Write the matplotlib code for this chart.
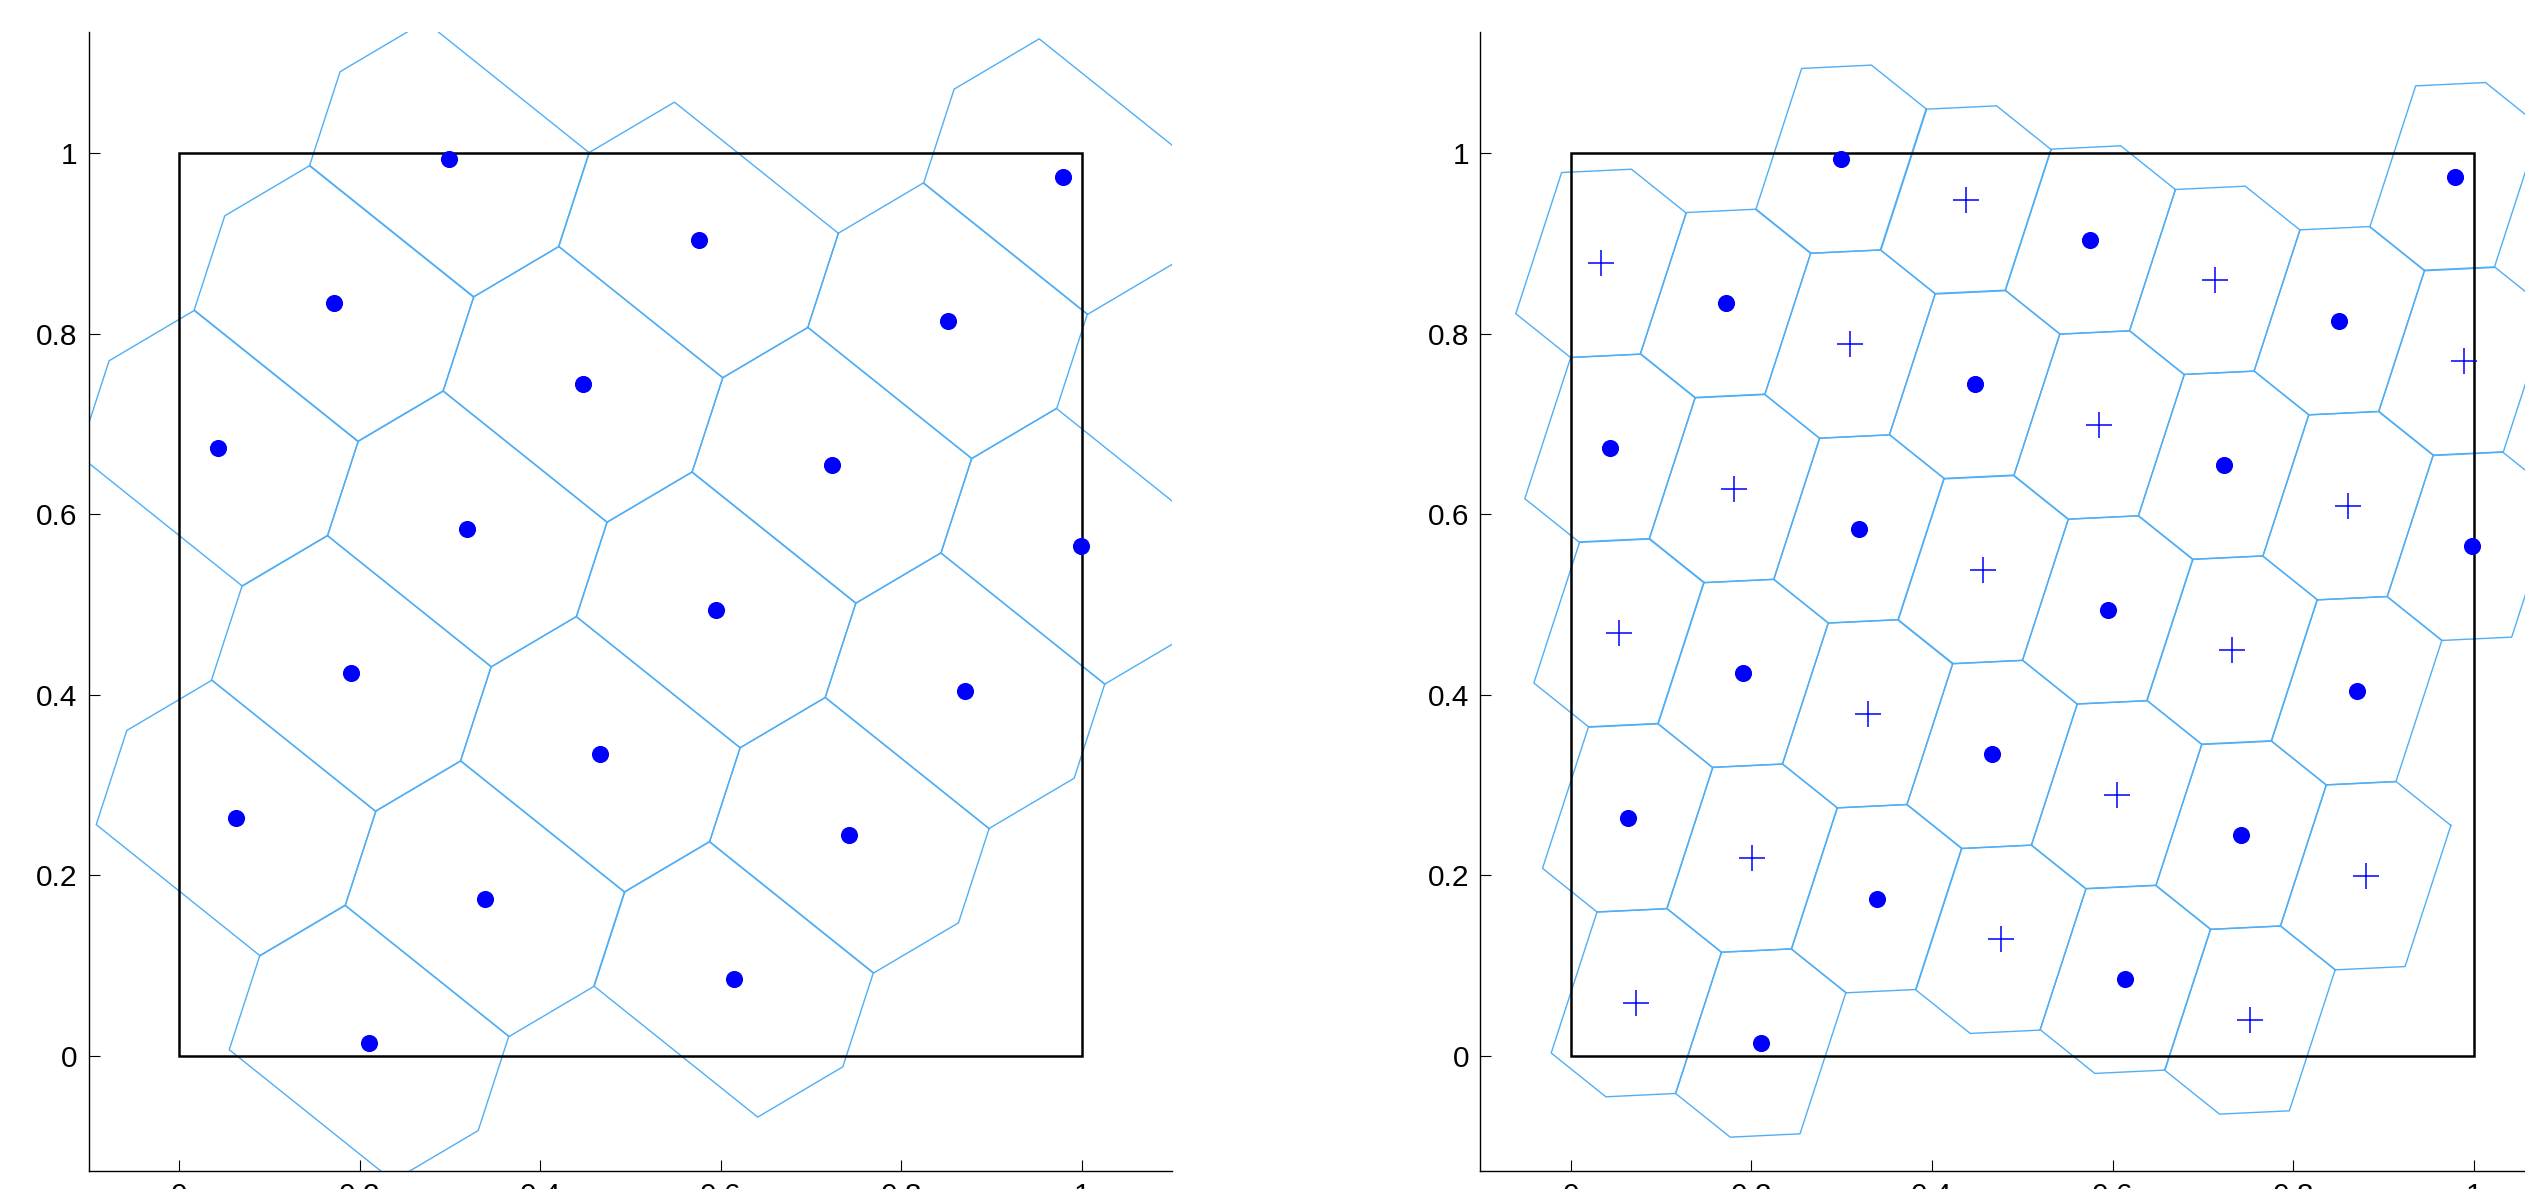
import numpy as np
import matplotlib
matplotlib.use('Agg')
import matplotlib.pyplot as plt
from matplotlib.patches import Rectangle

plt.rcParams['font.family'] = ['Liberation Sans', 'DejaVu Sans']

# lattice points in the unit square (filled dots)
dots_x = [0.2993, 0.1716, 0.4474, 0.0435, 0.3193, 0.9793, 0.5754, 0.8512, 0.7231, 0.9985,
	0.1908, 0.4666, 0.0631, 0.3389, 0.2104, 0.5947, 0.8704, 0.7423, 0.6142]
dots_y = [0.9934, 0.8338, 0.7441, 0.6732, 0.5838, 0.9741, 0.9040, 0.8146, 0.6544, 0.5646,
	0.4239, 0.3342, 0.2637, 0.1743, 0.0144, 0.4941, 0.4047, 0.2445, 0.0850]

# extra points of the refined lattice (crosses)
cross_x = [0.4378, 0.0335, 0.3093, 0.1812, 0.4566, 0.7132, 0.9893, 0.5851, 0.8608,
	0.0535, 0.3289, 0.2008, 0.4762, 0.0727, 0.7323, 0.6046, 0.8804, 0.7523]
cross_y = [0.9483, 0.8781, 0.7887, 0.6285, 0.5387, 0.8593, 0.7699, 0.6990, 0.6096,
	0.4690, 0.3792, 0.2193, 0.1293, 0.0591, 0.4498, 0.2895, 0.1997, 0.0399]

ticks = [0, 0.2, 0.4, 0.6, 0.8, 1]
tick_labels = ['0', '0.2', '0.4', '0.6', '0.8', '1']

CELL = '#50AEF5'
BLUE = '#0000FF'


# keep the part of a polygon where x . n <= c
def clip(poly, n, c):
	out = []
	m = len(poly)
	for i in range(m):
		p, q = poly[i], poly[(i + 1) % m]
		fp, fq = p @ n - c, q @ n - c
		if fp <= 0:
			out.append(p)
		if fp * fq < 0:
			t = fp / (fp - fq)
			out.append(p + t * (q - p))
	return np.array(out)


# Voronoi cell of the origin for the lattice spanned by the points
def voronoi_cell(pts, tol=0.03):
	d = (pts[:, None, :] - pts[None, :, :]).reshape(-1, 2)
	r = np.hypot(d[:, 0], d[:, 1])
	rmin = r[r > 1e-9].min()
	d = d[(r > 1e-9) & (r < 2.5 * rmin)]

	# average the differences that stand for the same lattice vector
	groups = []
	for v in d:
		for g in groups:
			if np.hypot(*(g[0] / g[1] - v)) < tol:
				g[0] += v
				g[1] += 1
				break
		else:
			groups.append([v.copy(), 1])

	poly = np.array([[-1., -1.], [1., -1.], [1., 1.], [-1., 1.]])
	for s, k in groups:
		v = s / k
		poly = clip(poly, v, v @ v / 2)
	return poly


def setup(ax):
	ax.set_xlim(-0.1, 1.1)
	ax.set_ylim(-0.127, 1.134)
	ax.spines['top'].set_visible(False)
	ax.spines['right'].set_visible(False)
	for s in ('left', 'bottom'):
		ax.spines[s].set_linewidth(1.0)
	ax.set_xticks(ticks)
	ax.set_xticklabels(tick_labels)
	ax.set_yticks(ticks)
	ax.set_yticklabels(tick_labels)
	ax.tick_params(direction='in', length=8, width=0.8, labelsize=21.5, pad=8)


def draw_cells(ax, pts):
	cell = voronoi_cell(pts)
	ring = np.vstack([cell, cell[:1]])
	for p in pts:
		ax.plot(ring[:, 0] + p[0], ring[:, 1] + p[1], color=CELL, lw=1.0, zorder=1)
	ax.add_patch(Rectangle((0, 0), 1, 1, fill=False, ec='k', lw=1.8, zorder=2))


dots = np.column_stack([dots_x, dots_y])
crosses = np.column_stack([cross_x, cross_y])

fig = plt.figure(figsize=(25.25, 11.89), dpi=100)

ax1 = fig.add_axes([0.03513, 0.01539, 0.42915, 0.95745])
draw_cells(ax1, dots)
ax1.plot(dots_x, dots_y, 'o', color=BLUE, ms=11.3, mec=BLUE, zorder=3)
setup(ax1)

ax2 = fig.add_axes([0.58630, 0.01539, 0.42915, 0.95745])
draw_cells(ax2, np.vstack([dots, crosses]))
ax2.plot(dots_x, dots_y, 'o', color=BLUE, ms=11.3, mec=BLUE, zorder=3)
ax2.plot(cross_x, cross_y, '+', color=BLUE, ms=19, mew=1.1, zorder=3)
setup(ax2)

fig.savefig('out.png', dpi=100)
